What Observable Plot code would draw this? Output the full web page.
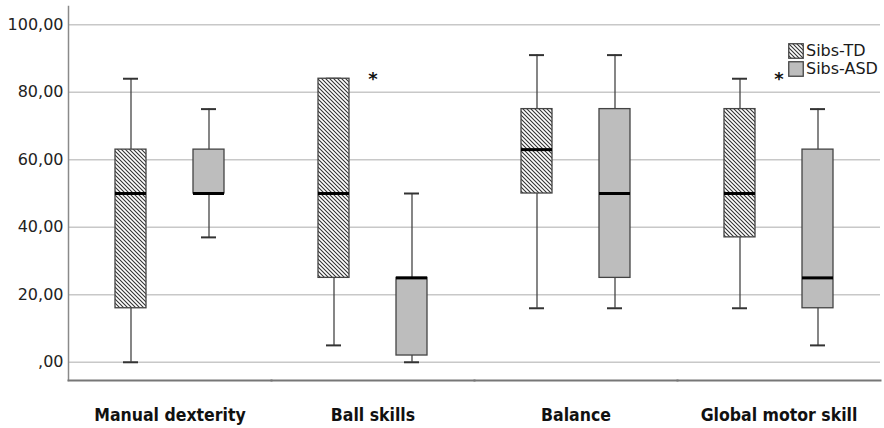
<!DOCTYPE html>
<html><head><meta charset="utf-8">
<script src="https://cdn.jsdelivr.net/npm/d3@7"></script>
<script src="https://cdn.jsdelivr.net/npm/@observablehq/plot@0.6"></script>
<style>
body{margin:0;background:#fff;}
#wrap{position:relative;width:884px;height:428px;background:#fff;}
.mp g[aria-label="fx-axis tick label"] text{font-family:"Liberation Sans Narrow","DejaVu Sans Condensed","Arial Narrow",sans-serif;font-stretch:condensed;font-weight:bold;font-size:17.5px;fill:#111;}
.mp g[aria-label="y-axis tick label"] text{font-family:"DejaVu Sans",sans-serif;font-size:16px;fill:#222;}
#legend{position:absolute;left:788px;top:42px;font-family:"DejaVu Sans",sans-serif;font-size:16px;color:#1a1a1a;line-height:18px;}
#legend .row{display:flex;align-items:center;height:18px;}
#legend svg{margin-right:2px;}
</style></head><body>
<svg width="0" height="0" style="position:absolute"><defs>
<pattern id="hatch" patternUnits="userSpaceOnUse" width="4" height="4">
<rect width="4" height="4" fill="#fff"/>
<path d="M-1,-1L5,5M-1,3L1,5M3,-1L5,1" stroke="#333" stroke-width="1.1"/>
</pattern></defs></svg>
<div id="wrap"></div>
<script>
const categories = ["Manual dexterity", "Ball skills", "Balance", "Global motor skill"];
const groups = ["Sibs-TD", "Sibs-ASD"];
const yTicks = [0, 20, 40, 60, 80, 100];
// box-plot statistics per category
const tdLow  = [0, 5, 16, 16];
const tdQ1   = [16, 25, 50, 37];
const tdMed  = [50, 50, 63, 50];
const tdQ3   = [63, 84, 75, 75];
const tdHigh = [84, 84, 91, 84];
const asdLow  = [37, 0, 16, 5];
const asdQ1   = [50, 2, 25, 16];
const asdMed  = [50, 25, 50, 25];
const asdQ3   = [63, 25, 75, 63];
const asdHigh = [75, 50, 91, 75];
const sigCategories = ["Ball skills", "Global motor skill"];
const sigValue = [85, 85];

const rows = [];
categories.forEach((cat, i) => {
  rows.push({cat, group: groups[0], low: tdLow[i], q1: tdQ1[i], med: tdMed[i], q3: tdQ3[i], high: tdHigh[i]});
  rows.push({cat, group: groups[1], low: asdLow[i], q1: asdQ1[i], med: asdMed[i], q3: asdQ3[i], high: asdHigh[i]});
});
const sig = sigCategories.map((cat, i) => ({cat, y: sigValue[i]}));
const fmt = d => d === 0 ? ",00" : d.toFixed(2).replace(".", ",");

const plot = Plot.plot({
  width: 884, height: 428,
  marginLeft: 68, marginRight: 4, marginTop: 6, marginBottom: 48,
  className: "mp",
  style: {fontFamily: "DejaVu Sans, sans-serif", background: "#fff", color: "#222"},
  fx: {domain: categories, padding: 0, label: null},
  x: {domain: groups, padding: 0.6, axis: null},
  y: {domain: [-5.4, 105.4], label: null},
  color: {domain: groups, range: ["url(#hatch)", "#bdbdbd"]},
  marks: [
    Plot.gridY(yTicks, {stroke: "#c8c8c8", strokeOpacity: 1, strokeWidth: 1.5}),
    Plot.axisY(yTicks, {tickSize: 0, tickPadding: 5, tickFormat: fmt, fontSize: 16, label: null}),
    Plot.frame({anchor: "left", facetAnchor: "left", stroke: "#8a8a8a", strokeWidth: 1.5}),
    Plot.frame({anchor: "bottom", stroke: "#777", strokeWidth: 2}),
    Plot.ruleX(rows, {fx: "cat", x: "group", y1: "low", y2: "high", stroke: "#444", strokeWidth: 1.3}),
    Plot.tickY(rows, {fx: "cat", x: "group", y: "low", insetLeft: 8, insetRight: 8, stroke: "#333", strokeWidth: 2}),
    Plot.tickY(rows, {fx: "cat", x: "group", y: "high", insetLeft: 8, insetRight: 8, stroke: "#333", strokeWidth: 2}),
    Plot.barY(rows, {fx: "cat", x: "group", y1: "q1", y2: "q3", fill: "group", stroke: "#444", strokeWidth: 1.3}),
    Plot.tickY(rows, {fx: "cat", x: "group", y: "med", stroke: "#000", strokeWidth: 3}),
    Plot.text(sig, {fx: "cat", y: "y", text: () => "*", fontSize: 18, fontWeight: "bold", dy: 4, fill: "#111"}),
    Plot.axisFx({anchor: "bottom", tickSize: 0, tickPadding: 28, label: null, fontSize: 17.5, fontWeight: "bold"})
  ]
});
const wrap = document.getElementById("wrap");
wrap.appendChild(plot);

const legend = document.createElement("div");
legend.id = "legend";
groups.forEach(g => {
  const row = document.createElement("div");
  row.className = "row";
  const fill = g === groups[0] ? "url(#hatch)" : "#bdbdbd";
  row.innerHTML = `<svg width="16" height="16"><rect x="0.75" y="0.75" width="14.5" height="14.5" fill="${fill}" stroke="#444" stroke-width="1.3"/></svg><span>${g}</span>`;
  legend.appendChild(row);
});
wrap.appendChild(legend);
</script>
</body></html>
